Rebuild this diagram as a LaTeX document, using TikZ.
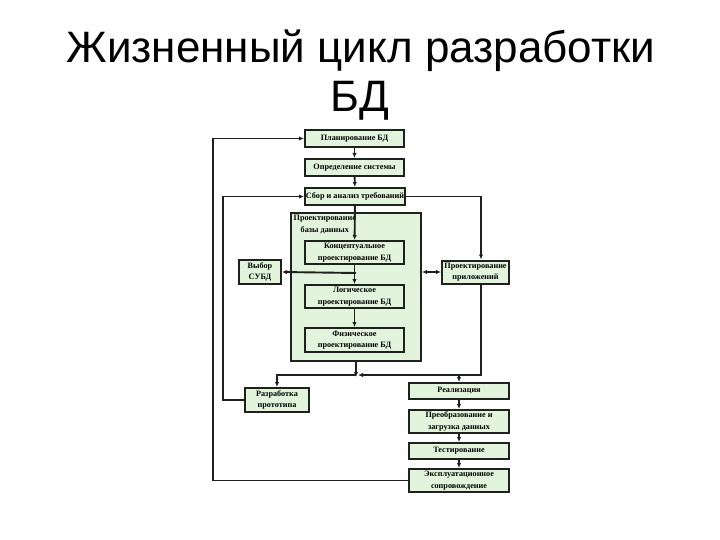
\documentclass[tikz,border=0pt]{standalone}
\usepackage{fontspec}
\setmainfont{Liberation Serif}
\newfontfamily\titlefont{Liberation Sans}
\usetikzlibrary{arrows.meta}
\definecolor{boxfill}{HTML}{E2F5DC}
\definecolor{boxline}{HTML}{1E221E}
\tikzset{
  stagebox/.style={draw=boxline, fill=boxfill, line width=2pt, inner sep=0pt,
    align=center, font=\bfseries\fontsize{8.2}{11.5}\selectfont},
  arr/.style={line width=1.9pt, draw=boxline, -{Latex[length=5pt,width=4.5pt]}},
  darr/.style={line width=1.9pt, draw=boxline, {Latex[length=5pt,width=4.5pt]}-{Latex[length=5pt,width=4.5pt]}},
  titletext/.style={font=\titlefont\fontsize{44}{48}\selectfont, inner sep=0pt, anchor=base}
}
\begin{document}
\begin{tikzpicture}[x=1pt,y=-1pt]
\useasboundingbox (0,0) rectangle (720,540);
\node[titletext] (t1) at (361,63) {Жизненный цикл разработки};
\node[titletext] (t2) at (360,112) {БД};

% big design box
\node[stagebox, minimum width=130pt, minimum height=148pt] (big) at (356,287) {};
\node[anchor=north west, inner sep=0pt, align=center, font=\bfseries\fontsize{8.2}{11.5}\selectfont] (bigl) at (293.5,215) {Проектирование\\базы данных};

\node[stagebox, minimum width=99pt, minimum height=17pt] (plan) at (354.5,138.5) {Планирование БД};
\node[stagebox, minimum width=99pt, minimum height=17pt] (opr) at (354.5,167.5) {Определение системы};
\node[stagebox, minimum width=100pt, minimum height=17pt] (sbor) at (355,196.5) {Сбор и анализ требований};
\node[stagebox, minimum width=99pt, minimum height=23pt] (konc) at (354.5,252.5) {Концептуальное\\проектирование БД};
\node[stagebox, minimum width=99pt, minimum height=23pt] (log) at (354.5,296.5) {Логическое\\проектирование БД};
\node[stagebox, minimum width=99pt, minimum height=24pt] (fiz) at (354.5,340) {Физическое\\проектирование БД};
\node[stagebox, minimum width=42pt, minimum height=24pt] (vyb) at (260,272) {Выбор\\СУБД};
\node[stagebox, minimum width=67pt, minimum height=23pt] (papp) at (475.5,272) {Проектирование\\приложений};
\node[stagebox, minimum width=64pt, minimum height=24pt] (proto) at (277,400) {Разработка\\прототипа};
\node[stagebox, minimum width=100pt, minimum height=16pt] (real) at (459,391) {Реализация};
\node[stagebox, minimum width=100pt, minimum height=23pt] (preob) at (459,421.5) {Преобразование и\\загрузка данных};
\node[stagebox, minimum width=100pt, minimum height=16pt] (test) at (459,451) {Тестирование};
\node[stagebox, minimum width=100pt, minimum height=23pt] (expl) at (459,480.5) {Эксплуатационное\\сопровождение};

\coordinate (L1) at (213,0);
\coordinate (L2) at (223,0);
\coordinate (R1) at (481,0);
\coordinate (J) at (356,375);
\coordinate (JL) at (356,273);

% main chain
\draw[arr] (plan) -- (opr);
\draw[arr] (opr) -- (sbor);
\draw[arr] (sbor) -- (konc);
\draw[arr] (konc) -- (log);
\draw[arr] (log) -- (fiz);
\draw[arr] (real) -- (preob);
\draw[arr] (preob) -- (test);
\draw[arr] (test) -- (expl);

% feedback loops
\draw[arr] (expl.west) -- (expl.west -| L1) -- (plan.west -| L1) -- (plan.west);
\draw[arr] (proto.west) -- (proto.west -| L2) -- (sbor.west -| L2) -- (sbor.west);

% application design
\draw[arr] (sbor.east) -- (sbor.east -| R1) -- (papp.north -| R1);
\draw[darr] (big.east |- papp.west) -- (papp.west);
\draw[arr] (JL) -- (vyb.east);

% lower junction
\draw[arr] (big.south) -- ([yshift=-2pt]J);
\draw[arr] (J) -- (J -| proto.north) -- (proto.north);
\draw[arr] (papp.south -| R1) -- (J -| R1) -- ([xshift=2pt]J);
\draw[arr] (J -| real.north) -- (real.north);
\end{tikzpicture}
\end{document}
